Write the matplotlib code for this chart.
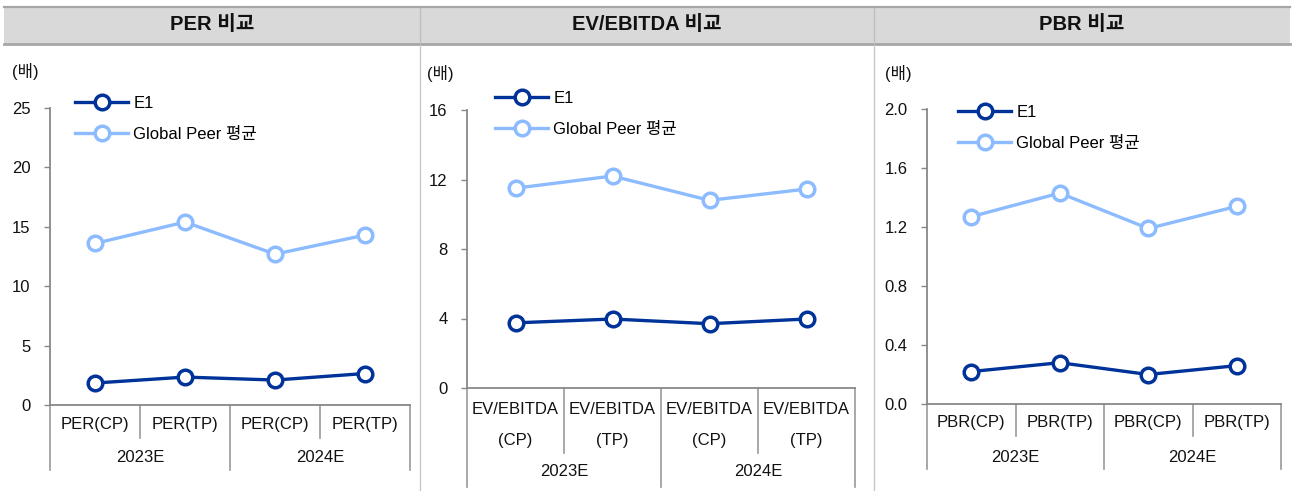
import numpy as np
import matplotlib
matplotlib.use("Agg")
import matplotlib.pyplot as plt
import matplotlib.transforms as mtransforms
from matplotlib.patches import Rectangle
from matplotlib.lines import Line2D

plt.rcParams['font.family'] = ['Liberation Sans', 'Noto Sans CJK KR']

W, H = 1294, 491

# data
years = ['2023E', '2024E']
series = ['E1', 'Global Peer 평균']
per_labels = ['PER(CP)', 'PER(TP)', 'PER(CP)', 'PER(TP)']
ev_labels = ['EV/EBITDA\n(CP)', 'EV/EBITDA\n(TP)', 'EV/EBITDA\n(CP)', 'EV/EBITDA\n(TP)']
pbr_labels = ['PBR(CP)', 'PBR(TP)', 'PBR(CP)', 'PBR(TP)']
per_e1 = [1.85, 2.35, 2.1, 2.65]
per_peer = [13.6, 15.4, 12.7, 14.3]
ev_e1 = [3.75, 3.97, 3.7, 3.97]
ev_peer = [11.5, 12.2, 10.8, 11.45]
pbr_e1 = [0.22, 0.28, 0.20, 0.26]
pbr_peer = [1.27, 1.43, 1.19, 1.34]

titles = ['PER 비교', 'EV/EBITDA 비교', 'PBR 비교']

c_e1 = '#003399'
c_peer = '#8cbcff'
c_axis = '#888888'

fig = plt.figure(figsize=(W / 100, H / 100), dpi=100)


def fx(x):
    return x / W


def fy(y):
    return 1 - y / H


# header band
fig.add_artist(Rectangle((fx(4), fy(44)), fx(1290) - fx(4), fy(7) - fy(44),
                         transform=fig.transFigure, facecolor='#d9d9d9', edgecolor='none'))
fig.add_artist(Line2D([fx(4), fx(1290)], [fy(7), fy(7)], transform=fig.transFigure,
                      color='#a6a6a6', lw=1.6))
fig.add_artist(Line2D([fx(4), fx(1290)], [fy(44), fy(44)], transform=fig.transFigure,
                      color='#a6a6a6', lw=2))
for xs in [420, 874]:
    fig.add_artist(Line2D([fx(xs), fx(xs)], [fy(8), fy(43)], transform=fig.transFigure,
                          color='#bfbfbf', lw=1))
    fig.add_artist(Line2D([fx(xs), fx(xs)], [fy(45), fy(491)], transform=fig.transFigure,
                          color='#c8c8c8', lw=1))
for t, cx in zip(titles, [212, 647, 1082]):
    fig.text(fx(cx), fy(25), t, ha='center', va='center', fontsize=14.5,
             fontweight='bold', color='#111111')

panels = [
    dict(x0=50, x1=410, ytop=108, ybot=405, ylim=(0, 25), ticks=np.arange(0, 26, 5), fmt='{:.0f}',
         e1=per_e1, peer=per_peer, labels=per_labels, leg=(75, 96), unit=(12, 72),
         row1=424, sep=438, row2=458, outer=470),
    dict(x0=467, x1=855, ytop=110, ybot=388, ylim=(0, 16), ticks=np.arange(0, 17, 4), fmt='{:.0f}',
         e1=ev_e1, peer=ev_peer, labels=ev_labels, leg=(495, 91), unit=(427, 74),
         row1=425, sep=453, row2=472, outer=487),
    dict(x0=927, x1=1281, ytop=109, ybot=404, ylim=(0, 2), ticks=np.arange(0, 2.01, 0.4), fmt='{:.1f}',
         e1=pbr_e1, peer=pbr_peer, labels=pbr_labels, leg=(958, 105), unit=(885, 73),
         row1=423, sep=436, row2=457, outer=469),
]

for p in panels:
    ax = fig.add_axes([fx(p['x0']), fy(p['ybot']), fx(p['x1']) - fx(p['x0']),
                       fy(p['ytop']) - fy(p['ybot'])])
    x = np.arange(len(p['labels']))
    ax.plot(x, p['e1'], color=c_e1, lw=2.4, marker='o', ms=10.5, mfc='white',
            mec=c_e1, mew=2.5, clip_on=False, label=series[0], zorder=3)
    ax.plot(x, p['peer'], color=c_peer, lw=2.4, marker='o', ms=10.5, mfc='white',
            mec=c_peer, mew=2.5, clip_on=False, label=series[1], zorder=3)
    ax.set_xlim(-0.5, len(x) - 0.5)
    ax.set_ylim(*p['ylim'])
    ax.set_yticks(p['ticks'])
    ax.set_yticklabels([p['fmt'].format(v) for v in p['ticks']])
    ax.set_xticks([])
    for s in ['top', 'right']:
        ax.spines[s].set_visible(False)
    for s in ['left', 'bottom']:
        ax.spines[s].set_color(c_axis)
        ax.spines[s].set_linewidth(1.3)
    ax.tick_params(axis='y', direction='out', length=4, width=1, color=c_axis,
                   pad=10, labelsize=12, labelcolor='#111111')
    ax.patch.set_alpha(0)

    # category axis separators and labels
    tr = mtransforms.blended_transform_factory(ax.transData, fig.transFigure)
    for b in np.arange(-0.5, len(x), 1.0):
        end = p['outer'] if b in (-0.5, 1.5, 3.5) else p['sep']
        ax.add_artist(Line2D([b, b], [fy(p['ybot']), fy(end)], transform=tr,
                             color='#999999', lw=1.2, clip_on=False))
    for i, lab in enumerate(p['labels']):
        ax.text(i, fy(p['row1']), lab, transform=tr, ha='center', va='center',
                fontsize=12, color='#111111', linespacing=2.3)
    for j, yr in enumerate(years):
        ax.text(2 * j + 0.5, fy(p['row2']), yr, transform=tr, ha='center', va='center',
                fontsize=12, color='#111111')

    fig.text(fx(p['unit'][0]), fy(p['unit'][1]), '(배)', ha='left', va='center',
             fontsize=12, color='#111111')

    ax.legend(loc='upper left', bbox_to_anchor=(fx(p['leg'][0]), fy(p['leg'][1])),
              bbox_transform=fig.transFigure, frameon=False, fontsize=12,
              handlelength=3.2, handletextpad=0.3, labelspacing=0.95,
              borderpad=0, borderaxespad=0)

fig.savefig('out.png', dpi=100)
